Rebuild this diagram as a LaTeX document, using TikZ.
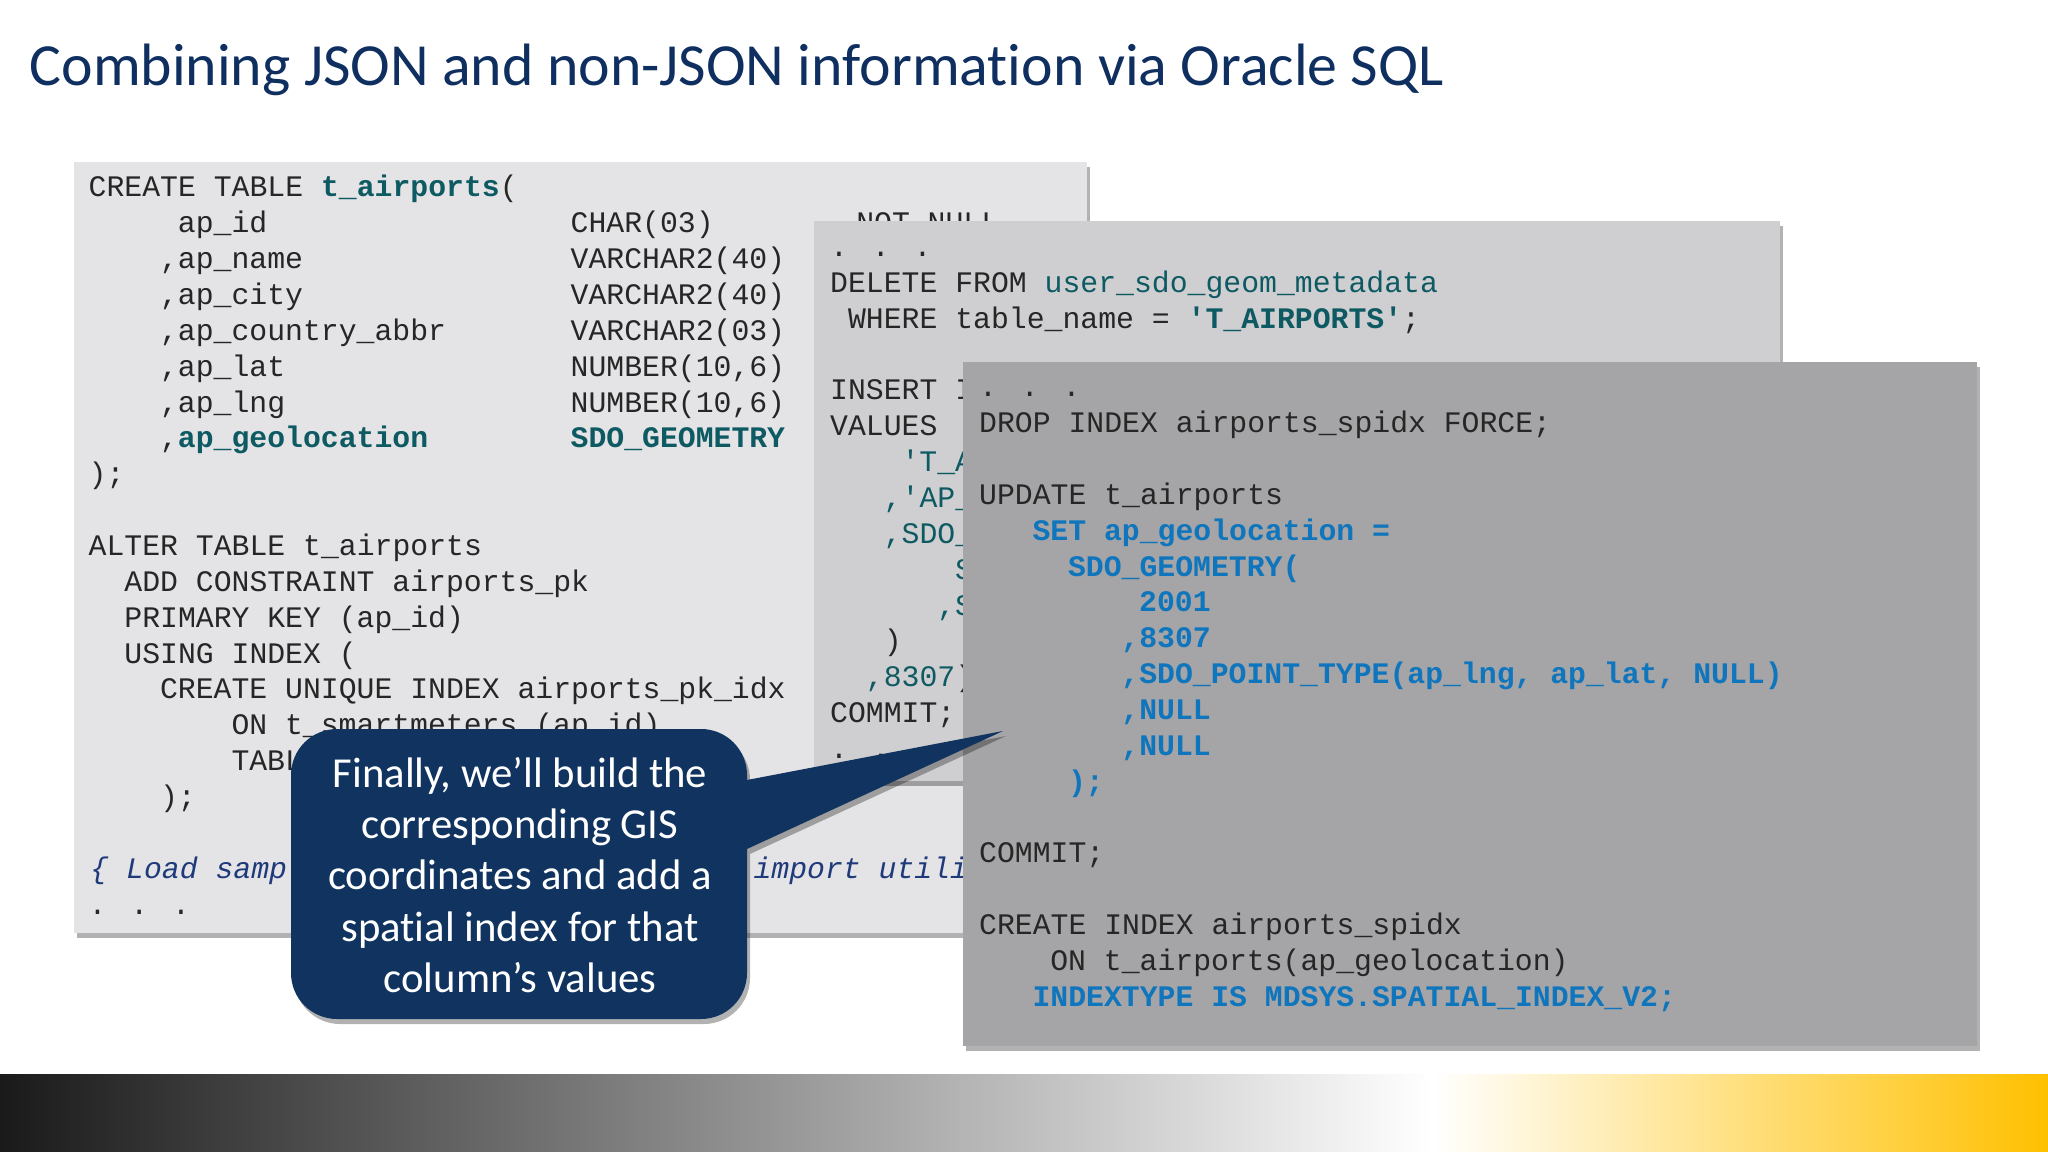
\documentclass[tikz,border=0pt]{standalone}
\usepackage{fontspec}
\setmainfont[Ligatures=NoCommon]{Carlito}
\newfontfamily\codefont{Liberation Mono}
\usetikzlibrary{shadows}
\definecolor{titleblue}{HTML}{0F2F60}
\definecolor{panelA}{HTML}{E4E3E5}
\definecolor{panelB}{HTML}{CFCED0}
\definecolor{panelC}{HTML}{A5A4A6}
\definecolor{codeteal}{HTML}{0E5A63}
\definecolor{codeblue}{HTML}{0F75BD}
\definecolor{codenavy}{HTML}{1F3A7A}
\definecolor{notefill}{HTML}{10335F}
\definecolor{barleft}{HTML}{1A1A1A}
\definecolor{baryellow}{HTML}{FFC000}
\newcommand\hlteal[1]{{\color{codeteal}\bfseries #1}}
\newcommand\plainteal[1]{{\color{codeteal}#1}}
\newcommand\hlblue[1]{{\color{codeblue}\bfseries #1}}
\catcode`\_=12
\tikzset{
  code/.style={font=\codefont\fontsize{8.47}{10}\selectfont, anchor=base west, inner sep=0pt, text=black!85},
  panel/.style={drop shadow={shadow xshift=0.03cm, shadow yshift=-0.05cm, fill=black, opacity=0.3}},
}
\begin{document}
\begin{tikzpicture}[x=0.01cm, y=-0.01cm, line join=round]
\useasboundingbox[fill=white] (0,0) rectangle (2048,1152);
\node[anchor=base west, inner sep=0pt, text=titleblue, font=\fontsize{17}{20}\selectfont] (title) at (29,86) {Combining JSON and non-JSON information via Oracle SQL};
\shade[left color=barleft, right color=white] (0,1074) rectangle (1432,1152);
\shade[left color=white, right color=baryellow] (1432,1074) rectangle (2048,1152);
% first panel
\path[panel, fill=panelA] (74,162) rectangle (1087,933);
\foreach \cl/\ln/\txt [count=\n] in {0/0/{CREATE TABLE \hlteal{t_airports}(}, 5/1/{ap_id}, 27/1/{CHAR(03)}, 43/1/{NOT NULL},
  4/2/{,ap_name}, 27/2/{VARCHAR2(40)}, 4/3/{,ap_city}, 27/3/{VARCHAR2(40)}, 4/4/{,ap_country_abbr}, 27/4/{VARCHAR2(03)},
  4/5/{,ap_lat}, 27/5/{NUMBER(10,6)}, 4/6/{,ap_lng}, 27/6/{NUMBER(10,6)}, 4/7/{,\hlteal{ap_geolocation}}, 27/7/{\hlteal{SDO_GEOMETRY}},
  0/8/{);}, 0/10/{ALTER TABLE t_airports}, 2/11/{ADD CONSTRAINT airports_pk}, 2/12/{PRIMARY KEY (ap_id)}, 2/13/{USING INDEX (},
  4/14/{CREATE UNIQUE INDEX airports_pk_idx}, 8/15/{ON t_smartmeters (ap_id)}, 8/16/{TABL}, 4/17/{);},
  0.1/19/{\color{codenavy}\itshape \{ Load sampl}, 37.25/19/{\color{codenavy}\itshape import utili}, 0/20/{. . .}}
  {\node[code] (a\n) at ({88+\cl*17.85},{197+\ln*35.85}) {\txt};}
% second panel
\path[panel, fill=panelB] (814,221) rectangle (1780,781);
\foreach \cl/\ln/\txt [count=\n] in {0/0/{. . .}, 0/1/{DELETE FROM \plainteal{user_sdo_geom_metadata}},
  1/2/{WHERE table_name = \hlteal{'T_AIRPORTS'};}, 0/4/{INSERT I}, 0/5/{VALUES}, 4/6/{\plainteal{'T_A}},
  3/7/{\plainteal{,'AP_}}, 3/8/{\plainteal{,SDO_}}, 7/9/{\plainteal{S}}, 6/10/{\plainteal{,S}}, 3/11/{)},
  2/12/{\plainteal{,8307})}, 0/13/{COMMIT;}, 0/14/{. . .}}
  {\node[code] (b\n) at ({829.5+\cl*17.85},{256.5+\ln*35.85}) {\txt};}
% third panel
\path[panel, fill=panelC] (963,362) rectangle (1977,1046);
\foreach \cl/\ln/\txt [count=\n] in {0/0/{. . .}, 0/1/{DROP INDEX airports_spidx FORCE;}, 0/3/{UPDATE t_airports},
  3/4/{\hlblue{SET ap_geolocation =}}, 5/5/{\hlblue{SDO_GEOMETRY(}}, 9/6/{\hlblue{2001}}, 8/7/{\hlblue{,8307}},
  8/8/{\hlblue{,SDO_POINT_TYPE(ap_lng, ap_lat, NULL)}}, 8/9/{\hlblue{,NULL}}, 8/10/{\hlblue{,NULL}}, 5/11/{\hlblue{);}},
  0/13/{COMMIT;}, 0/15/{CREATE INDEX airports_spidx}, 4/16/{ON t_airports(ap_geolocation)},
  3/17/{\hlblue{INDEXTYPE IS MDSYS.SPATIAL_INDEX_V2;}}}
  {\node[code] (c\n) at ({978.5+\cl*17.78},{397+\ln*35.83}) {\txt};}
% callout
\path[panel, fill=notefill] (747,780) -- (1003,731) -- (747,849)
  [rounded corners=0.46cm] -- (747,1019) -- (291,1019) -- (291,729) -- (747,729) [sharp corners] -- cycle;
\node[align=center, text=white, inner sep=0pt, font=\fontsize{12.15}{14.57}\selectfont] (note) at (520,875)
  {Finally, we’ll build the\\corresponding GIS\\coordinates and add a\\spatial index for that\\column’s values};
\end{tikzpicture}
\end{document}
